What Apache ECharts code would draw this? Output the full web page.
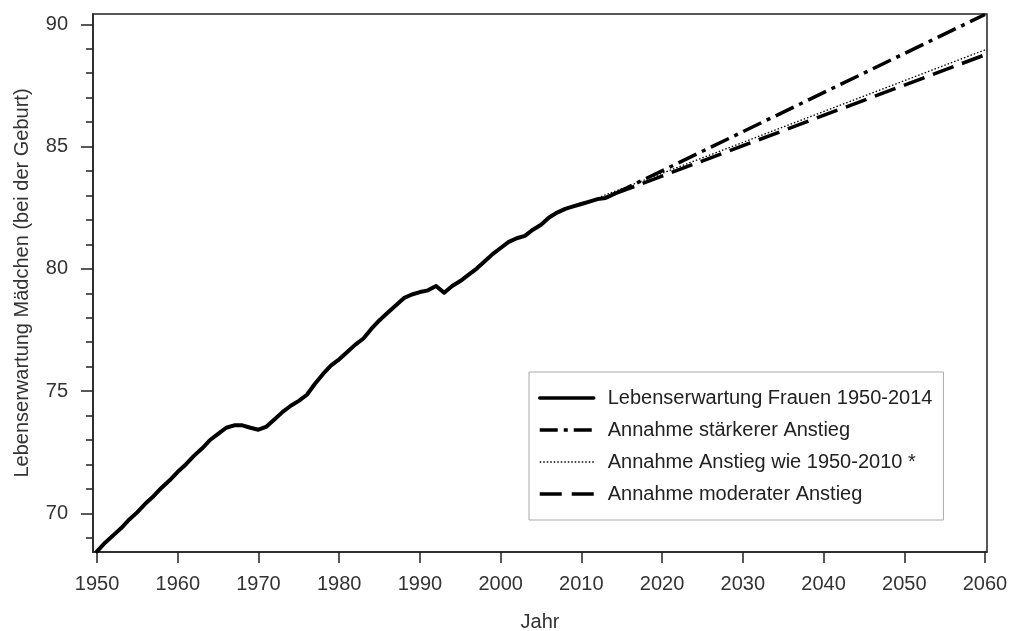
<!DOCTYPE html>
<html>
<head>
<meta charset="utf-8">
<title>Lebenserwartung Mädchen</title>
<script src="https://cdn.jsdelivr.net/npm/echarts@6/dist/echarts.min.js"></script>
<style>
  html, body { margin: 0; padding: 0; background: #fff; }
  #chart { width: 1009px; height: 631px; }
</style>
</head>
<body>
<div id="chart"></div>
<script>
// Lebenserwartung Mädchen - Verlauf und Annahmen bis 2060

// Daten
const histYears = [
  1950, 1951, 1952, 1953, 1954, 1955, 1956, 1957, 1958, 1959,
  1960, 1961, 1962, 1963, 1964, 1965, 1966, 1967, 1968, 1969,
  1970, 1971, 1972, 1973, 1974, 1975, 1976, 1977, 1978, 1979,
  1980, 1981, 1982, 1983, 1984, 1985, 1986, 1987, 1988, 1989,
  1990, 1991, 1992, 1993, 1994, 1995, 1996, 1997, 1998, 1999,
  2000, 2001, 2002, 2003, 2004, 2005, 2006, 2007, 2008, 2009,
  2010, 2011, 2012, 2013, 2014
];
const histValues = [
  68.45, 68.8, 69.1, 69.4, 69.75, 70.05, 70.4, 70.7, 71.05, 71.35,
  71.7, 72.0, 72.35, 72.65, 73.0, 73.25, 73.5, 73.6, 73.6, 73.5,
  73.42, 73.55, 73.85, 74.15, 74.4, 74.6, 74.85, 75.3, 75.7, 76.05,
  76.3, 76.6, 76.9, 77.15, 77.55, 77.9, 78.2, 78.5, 78.8, 78.95,
  79.05, 79.12, 79.3, 79.02, 79.3, 79.5, 79.75, 80.0, 80.3, 80.6,
  80.85, 81.1, 81.25, 81.35, 81.6, 81.8, 82.1, 82.3, 82.45, 82.55,
  82.65, 82.75, 82.85, 82.9, 83.05
];

const projYears = [2014, 2060];
const strongValues = [83.05, 90.4];
const moderateValues = [83.05, 88.75];
const trendYears = [2010, 2060];
const trendValues = [82.65, 88.95];

const xTickLabels = [1950, 1960, 1970, 1980, 1990, 2000, 2010, 2020, 2030, 2040, 2050, 2060];
const yTickLabels = [70, 75, 80, 85, 90];
const yMinorTicks = [69, 70, 71, 72, 73, 74, 75, 76, 77, 78, 79, 80, 81, 82, 83, 84, 85, 86, 87, 88, 89, 90];

const seriesNames = [
  'Lebenserwartung Frauen 1950-2014',
  'Annahme stärkerer Anstieg',
  'Annahme Anstieg wie 1950-2010 *',
  'Annahme moderater Anstieg'
];

// Linienstile je Reihe (Reihenfolge wie seriesNames)
const lineStyles = [
  { color: '#000', width: 4, type: 'solid', cap: 'round', join: 'round' },
  { color: '#000', width: 3.5, type: [20, 6, 4, 6], cap: 'butt' },
  { color: '#000', width: 1.3, type: [1.5, 2], cap: 'butt' },
  { color: '#000', width: 3.5, type: [22, 9], cap: 'butt' }
];
const legendLineStyles = [
  { color: '#000', width: 3.5, type: 'solid' },
  { color: '#000', width: 3.5, type: [18, 6, 4, 6] },
  { color: '#000', width: 1.3, type: [1.5, 2] },
  { color: '#000', width: 3.5, type: [22, 10] }
];

// Hilfsfunktion: Paare [x, y]
function pairs(xs, ys) {
  return xs.map((x, i) => [x, ys[i]]);
}

const FONT = "'Liberation Sans', Arial, sans-serif";
const AXIS_COLOR = '#222';
const TEXT_COLOR = '#333';

const chart = echarts.init(document.getElementById('chart'), null, { renderer: 'canvas' });

const option = {
  backgroundColor: '#fff',
  animation: false,
  textStyle: { fontFamily: FONT },
  grid: {
    left: 93,
    right: 22,
    top: 14,
    bottom: 79,
    containLabel: false,
    outerBoundsMode: 'none',
    show: true,
    borderColor: AXIS_COLOR,
    borderWidth: 1.5,
    backgroundColor: 'transparent'
  },
  legend: {
    orient: 'vertical',
    left: 529,
    top: 372,
    padding: [16, 11, 16, 9],
    backgroundColor: '#fff',
    borderColor: '#aaa',
    borderWidth: 1,
    borderRadius: 0,
    itemWidth: 54,
    itemHeight: 20,
    itemGap: 12,
    selectedMode: false,
    itemStyle: { opacity: 0 },
    data: seriesNames.map((name, i) => ({
      name: name,
      itemStyle: { opacity: 0, borderWidth: 0 },
      lineStyle: legendLineStyles[i]
    })),
    textStyle: {
      fontFamily: FONT,
      fontSize: 20,
      color: AXIS_COLOR,
      padding: [0, 0, 0, 9]
    }
  },
  xAxis: {
    type: 'value',
    min: 1949.5,
    max: 2060.25,
    name: 'Jahr',
    nameLocation: 'middle',
    nameGap: 60,
    nameTextStyle: { fontFamily: FONT, fontSize: 20, color: TEXT_COLOR },
    axisLine: { show: true, onZero: false, lineStyle: { color: AXIS_COLOR, width: 1.5 } },
    axisTick: {
      show: true,
      length: 11,
      customValues: xTickLabels,
      lineStyle: { color: AXIS_COLOR, width: 1.5 }
    },
    axisLabel: {
      customValues: xTickLabels,
      margin: 22,
      fontFamily: FONT,
      fontSize: 20,
      color: TEXT_COLOR,
      formatter: v => String(v)
    },
    splitLine: { show: false }
  },
  yAxis: [
    {
      type: 'value',
      min: 68.42,
      max: 90.42,
      name: 'Lebenserwartung Mädchen (bei der Geburt)',
      nameLocation: 'middle',
      nameGap: 61,
      nameRotate: 90,
      nameTextStyle: { fontFamily: FONT, fontSize: 20, color: TEXT_COLOR },
      axisLine: { show: true, onZero: false, lineStyle: { color: AXIS_COLOR, width: 1.5 } },
      axisTick: {
        show: true,
        length: 12,
        customValues: yTickLabels,
        lineStyle: { color: AXIS_COLOR, width: 1.5 }
      },
      axisLabel: {
        customValues: yTickLabels,
        margin: 25,
        fontFamily: FONT,
        fontSize: 20,
        color: TEXT_COLOR
      },
      splitLine: { show: false }
    },
    {
      // nur kleine Striche für jeden Jahreswert
      type: 'value',
      position: 'left',
      min: 68.42,
      max: 90.42,
      axisLine: { show: false },
      axisTick: {
        show: true,
        length: 7,
        customValues: yMinorTicks,
        lineStyle: { color: AXIS_COLOR, width: 1.5 }
      },
      axisLabel: { show: false },
      splitLine: { show: false }
    }
  ],
  series: [
    {
      name: seriesNames[0],
      type: 'line',
      data: pairs(histYears, histValues),
      symbol: 'none',
      z: 5,
      color: '#000',
      lineStyle: lineStyles[0]
    },
    {
      name: seriesNames[1],
      type: 'line',
      data: pairs(projYears, strongValues),
      symbol: 'none',
      z: 3,
      color: '#000',
      lineStyle: lineStyles[1]
    },
    {
      name: seriesNames[2],
      type: 'line',
      data: pairs(trendYears, trendValues),
      symbol: 'none',
      z: 2,
      color: '#000',
      lineStyle: lineStyles[2]
    },
    {
      name: seriesNames[3],
      type: 'line',
      data: pairs(projYears, moderateValues),
      symbol: 'none',
      z: 3,
      color: '#000',
      lineStyle: lineStyles[3]
    }
  ]
};

chart.setOption(option);
</script>
</body>
</html>
